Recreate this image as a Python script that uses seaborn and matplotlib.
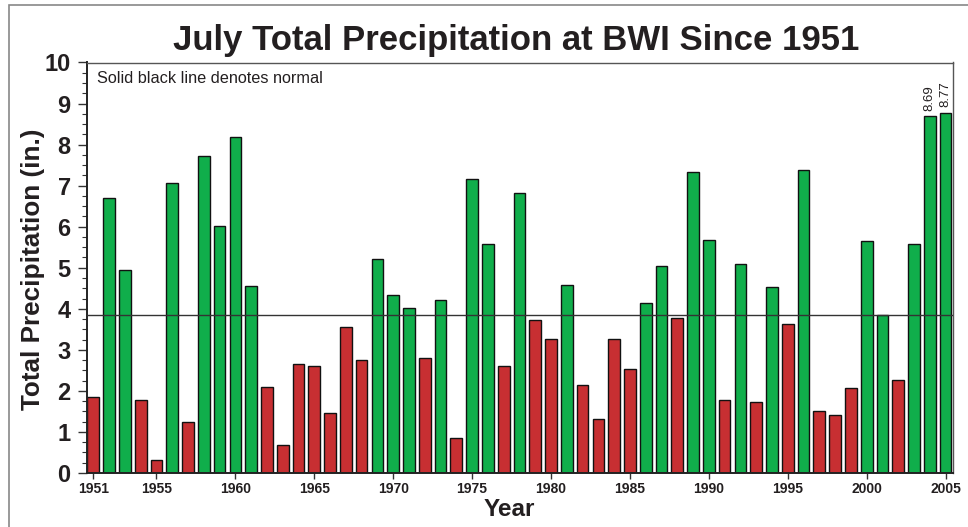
import matplotlib
matplotlib.use("Agg")
import matplotlib.pyplot as plt
from matplotlib.patches import Rectangle
from matplotlib.ticker import MultipleLocator
import seaborn as sns
import pandas as pd

years = list(range(1951, 2006))
precip = [1.85, 6.71, 4.94, 1.77, 0.31, 7.06, 1.25, 7.72, 6.01, 8.18,
          4.56, 2.10, 0.67, 2.66, 2.61, 1.47, 3.56, 2.75, 5.22, 4.33,
          4.02, 2.80, 4.21, 0.85, 7.15, 5.58, 2.61, 6.82, 3.72, 3.26,
          4.59, 2.15, 1.31, 3.26, 2.53, 4.13, 5.05, 3.77, 7.33, 5.67,
          1.77, 5.08, 1.72, 4.54, 3.64, 7.39, 1.50, 1.42, 2.07, 5.64,
          3.86, 2.26, 5.58, 8.69, 8.77]
normal = 3.86
xtick_years = [1951, 1955, 1960, 1965, 1970, 1975, 1980, 1985, 1990, 1995, 2000, 2005]
labeled_years = [2004, 2005]

sns.set_style("ticks")
plt.rcParams['font.family'] = ['Liberation Sans', 'DejaVu Sans']
TXT = '#231f20'

df = pd.DataFrame({"year": years, "precip": precip})
df["status"] = ["above" if v >= normal else "below" for v in df["precip"]]

fig = plt.figure(figsize=(9.68, 5.27), dpi=100)
ax = fig.add_axes([86.7/968, 1 - 473/527, (952.7-86.7)/968, (473-62.5)/527])

sns.barplot(data=df, x="year", y="precip", hue="status",
            palette={"above": "#10ae4b", "below": "#c72f32"}, saturation=1,
            native_scale=True, width=0.74, dodge=False, legend=False,
            edgecolor="#111111", linewidth=1.0, ax=ax, zorder=2)

ax.axhline(normal, color="#333333", lw=1.0, zorder=3)

ax.set_xlim(1950.58, 2005.45)
ax.set_ylim(0, 10)
ax.yaxis.set_major_locator(MultipleLocator(1))
ax.yaxis.set_minor_locator(MultipleLocator(0.25))
ax.set_xticks(xtick_years)
ax.set_xticklabels([str(y) for y in xtick_years], fontsize=10, fontweight='bold', color=TXT)
ax.set_yticks(range(0, 11))
ax.set_yticklabels([str(v) for v in range(0, 11)], fontsize=17, fontweight='bold', color=TXT)
ax.tick_params(axis='y', which='major', length=6.5, width=1.0, pad=5, color='#333333')
ax.tick_params(axis='y', which='minor', length=3.6, width=0.8, color='#333333')
ax.tick_params(axis='x', which='major', length=4.5, width=1.0, pad=2, color='#333333')

for s in ["left", "bottom"]:
    ax.spines[s].set_linewidth(1.4)
    ax.spines[s].set_color("#222222")
for s in ["top", "right"]:
    ax.spines[s].set_linewidth(1.0)
    ax.spines[s].set_color("#555555")

ax.set_xlabel("Year", fontsize=17.5, fontweight='bold', color=TXT)
ax.xaxis.set_label_coords((509.5 - 86.7) / (952.7 - 86.7), -(510 - 473) / (473 - 62.5))
ax.xaxis.label.set_va('center')
ax.set_ylabel("Total Precipitation (in.)", fontsize=18.8, fontweight='bold', color=TXT)
ax.yaxis.set_label_coords(-(86.7 - 33) / (952.7 - 86.7), (473 - 269) / (473 - 62.5))
ax.yaxis.label.set_va('center')

ax.text(0.012, 0.962, "Solid black line denotes normal", transform=ax.transAxes,
        fontsize=11.7, color=TXT, ha='left', va='center')

for y, v in zip(years, precip):
    if y in labeled_years:
        ax.text(y, v + 0.14, f"{v:.2f}", rotation=90, ha='center', va='bottom',
                fontsize=9.5, color=TXT)

fig.text(516/968, 1 - 50/527, "July Total Precipitation at BWI Since 1951",
         ha='center', va='baseline', fontsize=25, fontweight='bold', color=TXT)

fig.add_artist(Rectangle((9/968, -0.02), 1.2, 1 - 5/527 + 0.02,
                         transform=fig.transFigure, fill=False,
                         edgecolor='#888888', lw=1.2))

fig.savefig("out.png", dpi=100)
